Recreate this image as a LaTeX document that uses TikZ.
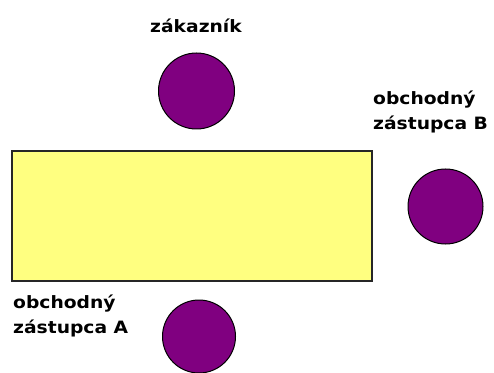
\documentclass[tikz,border=0pt]{standalone}
\usepackage{fontspec}
\newfontfamily\lblfont{DejaVu Sans}[FakeStretch=1.1]
\definecolor{boxyellow}{HTML}{FFFF80}
\definecolor{dotpurple}{HTML}{800080}
\begin{document}
\begin{tikzpicture}[x=1pt,y=1pt,
  lbl/.style={inner sep=0pt, font=\lblfont\bfseries\fontsize{17}{25}\selectfont, align=left},
  dot/.style={circle, fill=dotpurple, draw=black, line width=1pt, inner sep=0pt, minimum size=#1}]
\useasboundingbox (0,0) rectangle (494,372);
\node[draw=black!85, line width=1.5pt, fill=boxyellow, minimum width=360pt, minimum height=130pt, inner sep=0pt] (box) at (192,156) {};
\node[dot=76pt] (zak) at (196.5,281) {};
\node[dot=75pt] (zb) at (445.5,165.5) {};
\node[dot=73pt] (za) at (199,35.5) {};
\node[lbl, anchor=base] (tzak) at (196,339) {zákazník};
\node[lbl, anchor=base west] (tzb) at (373,242) {obchodný\\zástupca B};
\node[lbl, anchor=base west] (tza) at (13,39) {obchodný\\zástupca A};
\end{tikzpicture}
\end{document}
